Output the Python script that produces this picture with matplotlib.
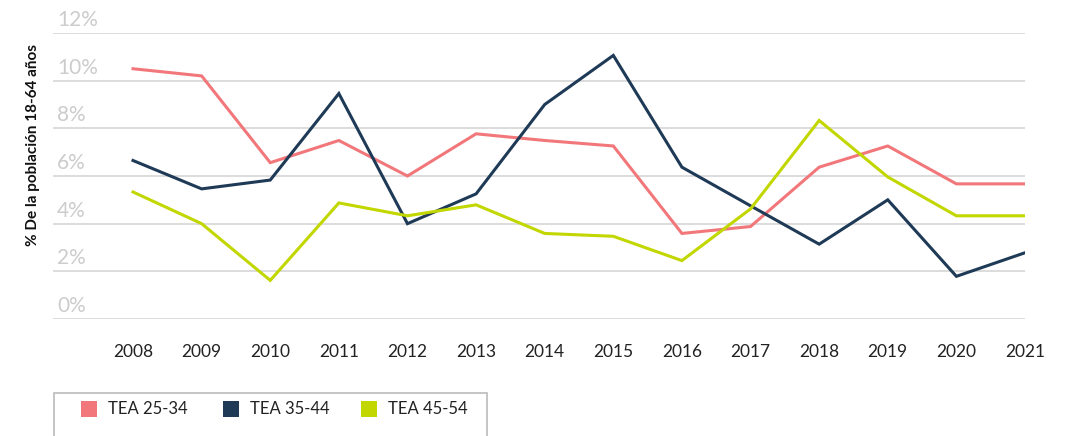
import matplotlib
matplotlib.use("Agg")
import matplotlib.pyplot as plt
from matplotlib.patches import Rectangle
from matplotlib.transforms import blended_transform_factory, offset_copy

years = ["2008", "2009", "2010", "2011", "2012", "2013", "2014",
         "2015", "2016", "2017", "2018", "2019", "2020", "2021"]
tea_25_34 = [10.5, 10.2, 6.56, 7.49, 6.0, 7.77, 7.49, 7.26, 3.59, 3.88, 6.37, 7.26, 5.67, 5.67]
tea_35_44 = [6.65, 5.46, 5.83, 9.46, 4.0, 5.25, 9.0, 11.06, 6.37, 4.75, 3.14, 5.0, 1.79, 2.78]
tea_45_54 = [5.33, 4.0, 1.62, 4.87, 4.33, 4.79, 3.59, 3.47, 2.45, 4.62, 8.33, 5.96, 4.33, 4.33]
series_names = ["TEA 25-34", "TEA 35-44", "TEA 45-54"]
y_ticks = [0, 2, 4, 6, 8, 10, 12]
y_tick_labels = ["0%", "2%", "4%", "6%", "8%", "10%", "12%"]

colors = ["#f2777b", "#1e3a56", "#c2d600"]
W, H = 1073, 436
fig = plt.figure(figsize=(W / 100, H / 100), dpi=100)
plt.rcParams['font.family'] = ['Lato', 'DejaVu Sans']

ax = fig.add_axes([53 / W, (H - 319) / H, (1025 - 53) / W, (319 - 33) / H])
x = list(range(len(years)))
for vals, c, name in zip([tea_25_34, tea_35_44, tea_45_54], colors, series_names):
    ax.plot(x, vals, color=c, lw=2.2, label=name, solid_joinstyle='miter', zorder=3)

ax.set_xlim(-80 / 68.6, len(years) - 1)
ax.set_ylim(0, 12)
ax.set_yticks(y_ticks)
ax.set_yticklabels([])
ax.tick_params(axis='y', length=0)
ax.grid(axis='y', color='#dcdcdc', lw=1.4)
ax.set_axisbelow(True)
for s in ax.spines.values():
    s.set_visible(False)

trans = offset_copy(blended_transform_factory(ax.transAxes, ax.transData), fig=fig, x=0, y=3, units='dots')
for v, lab in zip(y_ticks, y_tick_labels):
    ax.text(4 / 972, v, lab, transform=trans, ha='left', va='bottom',
            fontsize=15, color='#cccccc')

ax.set_xticks(x)
ax.set_xticklabels(years, fontsize=12.5, color='#222222')
ax.tick_params(axis='x', length=0, pad=18)

fig.text(33 / W, 1 - 145 / H, "% De la población 18-64 años", rotation=90,
         ha='center', va='center', fontsize=11, fontweight='bold', color='#111111')

# legend box
fig.add_artist(Rectangle((54 / W, -0.05), (487 - 54) / W, (H - 393) / H + 0.05,
                         transform=fig.transFigure, facecolor='white',
                         edgecolor='#bbbbbb', lw=1.2))
leg_sq_x = [81, 223, 361]
for sx, c, name in zip(leg_sq_x, colors, series_names):
    fig.add_artist(Rectangle((sx / W, (H - 417) / H), 16 / W, 16 / H,
                             transform=fig.transFigure, facecolor=c, edgecolor='none'))
    fig.text((sx + 27) / W, (H - 409) / H, name, ha='left', va='center',
             fontsize=12, color='#222222')

fig.savefig("out.png", dpi=100)
